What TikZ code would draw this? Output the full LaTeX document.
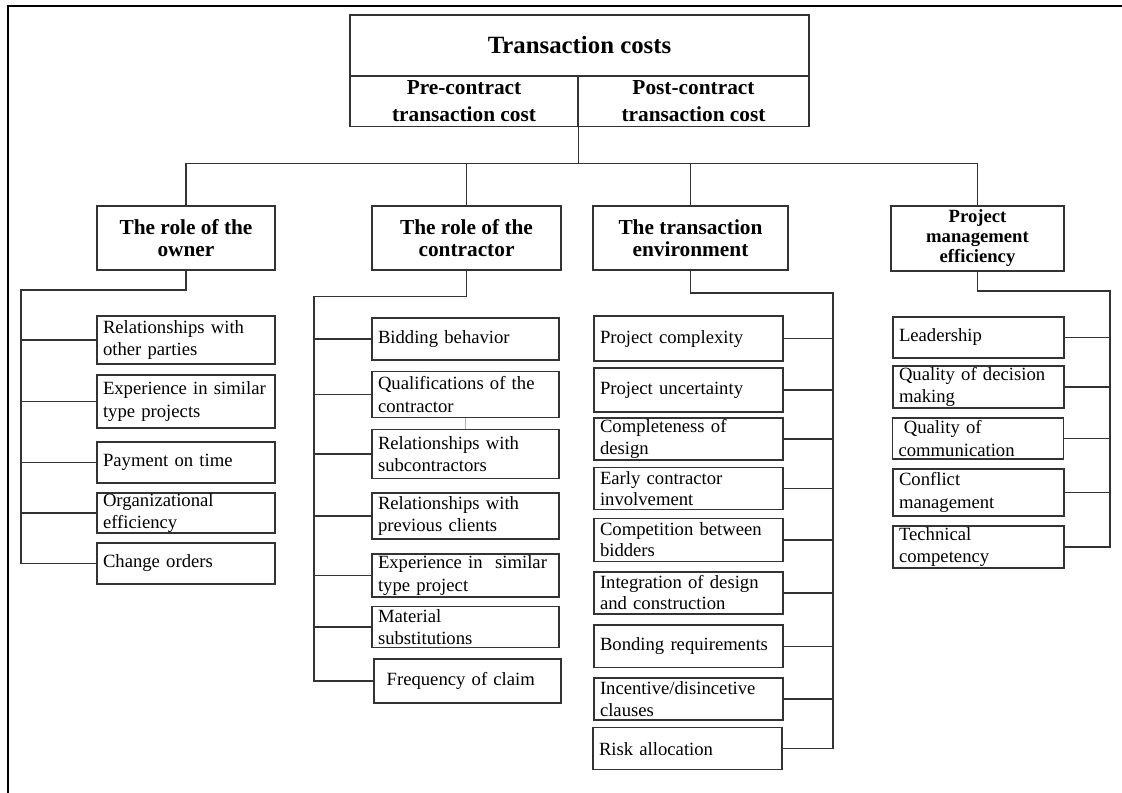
\documentclass[tikz,border=0pt]{standalone}
\usepackage{fontspec}
\setmainfont{Liberation Serif}
\usepackage{tikz}
\definecolor{edge}{gray}{0.2}
\definecolor{tick}{rgb}{0.56,0.71,0.88}

\begin{document}
\begin{tikzpicture}[x=0.75pt,y=-0.75pt,
        box/.style={draw=edge,line width=1.1pt,inner sep=0pt},
        line/.style={draw=edge,line width=1.1pt},
        sz/.style n args={2}{minimum width=#1*0.75pt,minimum height=#2*0.75pt},
        h/.style={minimum height=#1*0.75pt},
        head/.style={box,align=center,font=\fontsize{16}{16.5}\selectfont\bfseries},
        leaf/.style={box,align=left,inner xsep=4.5pt,font=\fontsize{14}{17}\selectfont},
        own/.style={leaf,text width=124.5pt},
        con/.style={leaf,text width=131.25pt},
        envl/.style={leaf,text width=132.75pt,font=\fontsize{14}{16}\selectfont},
        pml/.style={leaf,text width=119.25pt}]
        \useasboundingbox (0,0) rectangle (1122,793);
        \draw[line width=1.9pt] (8,793) -- (8,6) -- (1122,6);

        \node[box,sz={459}{61},font=\fontsize{18.6}{22}\selectfont\bfseries] (tc) at (579.5,45.5) {Transaction costs};
        \node[box,sz={228}{51},align=center,font=\fontsize{16}{20}\selectfont\bfseries] (pre) at (464,101) {Pre-contract\\transaction cost};
        \node[box,sz={231}{51},align=center,font=\fontsize{16}{20}\selectfont\bfseries] (post) at (693.5,101) {Post-contract\\transaction cost};

        \node[head,sz={178}{64}] (own) at (186,238) {The role of the\\owner};
        \node[head,sz={189}{64}] (con) at (466.5,238) {The role of the\\contractor};
        \node[head,sz={195}{64}] (env) at (690.5,238) {The transaction\\environment};
        \node[head,sz={173}{65},font=\fontsize{14}{15}\selectfont\bfseries] (pm) at (977.5,238.5) {Project\\management\\efficiency};

        \draw[line] (pre.south east) -- ++(0,36) coordinate (hub);
        \draw[line] (own.north) |- (hub) -| (pm.north);
        \draw[line] (con.north) -- (con.north |- hub);
        \draw[line] (env.north) -- (env.north |- hub);

        \node[own,h=48] (ow1) at (186,340) {Relationships with\\other parties};
        \node[own,h=53] (ow2) at (186,401.5) {Experience in similar\\type projects};
        \node[own,h=41] (ow3) at (186,462.5) {Payment on time};
        \node[own,h=40] (ow4) at (186,513) {Organizational\\efficiency};
        \node[own,h=41] (ow5) at (186,563.5) {Change orders};
        \coordinate (ownrail) at (21,290);
        \draw[line] (own.south) |- (ownrail) |- (ow5.west);
        \foreach \c in {ow1,ow2,ow3,ow4}
            \draw[line] (ownrail |- \c.west) -- (\c.west);

        \node[con,h=42] (co1) at (465.5,339) {Bidding behavior};
        \node[con,h=46] (co2) at (465.5,394.5) {Qualifications of the\\contractor};
        \node[con,h=49] (co3) at (465.5,454) {Relationships with\\subcontractors};
        \node[con,h=46] (co4) at (465.5,516) {Relationships with\\previous clients};
        \node[con,h=43] (co5) at (465.5,575.5) {Experience in\ \ similar\\type project};
        \node[con,h=41] (co6) at (465.5,627) {Material\\substitutions};
        \node[con,h=44] (co7) at (467.5,681) {\hspace*{5pt}Frequency of claim};
        \coordinate (conrail) at (314,296.5);
        \draw[line] (con.south) |- (conrail) |- (co7.west);
        \foreach \c in {co1,co2,co3,co4,co5,co6}
            \draw[line] (conrail |- \c.west) -- (\c.west);
        \draw[tick,line width=0.8pt] (co2.south) -- (co3.north);

        \node[envl,h=45] (en1) at (688.5,338.7) {Project complexity};
        \node[envl,h=44] (en2) at (688.5,390) {Project uncertainty};
        \node[envl,h=42] (en3) at (688.5,438.8) {Completeness of\\design};
        \node[envl,h=42] (en4) at (688.5,488.5) {Early contractor\\involvement};
        \node[envl,h=43] (en5) at (688.5,539.8) {Competition between\\bidders};
        \node[envl,h=42] (en6) at (688.5,592.8) {Integration of design\\and construction};
        \node[envl,h=42.5] (en7) at (688.5,646.4) {Bonding requirements};
        \node[envl,h=42] (en8) at (688.5,699) {Incentive/disincetive\\clauses};
        \node[envl,h=42] (en9) at (687.5,748.7) {Risk allocation};
        \coordinate (envrail) at (833,293);
        \draw[line] (env.south) |- (envrail) |- (en9.east);
        \foreach \c in {en1,en2,en3,en4,en5,en6,en7,en8}
            \draw[line] (\c.east) -- (envrail |- \c.east);

        \node[pml,h=41] (pm1) at (978.5,337.5) {Leadership};
        \node[pml,h=42] (pm2) at (978.5,387) {Quality of decision\\making};
        \node[pml,h=41] (pm3) at (978,438.5) {\hspace*{4pt}Quality of\\communication};
        \node[pml,h=47] (pm4) at (978.5,492.5) {Conflict\\management};
        \node[pml,h=42] (pm5) at (978.5,547) {Technical\\competency};
        \coordinate (pmrail) at (1110,291);
        \draw[line] (pm.south) |- (pmrail) |- (pm5.east);
        \foreach \c in {pm1,pm2,pm3,pm4}
            \draw[line] (\c.east) -- (pmrail |- \c.east);
    \end{tikzpicture}
\end{document}
